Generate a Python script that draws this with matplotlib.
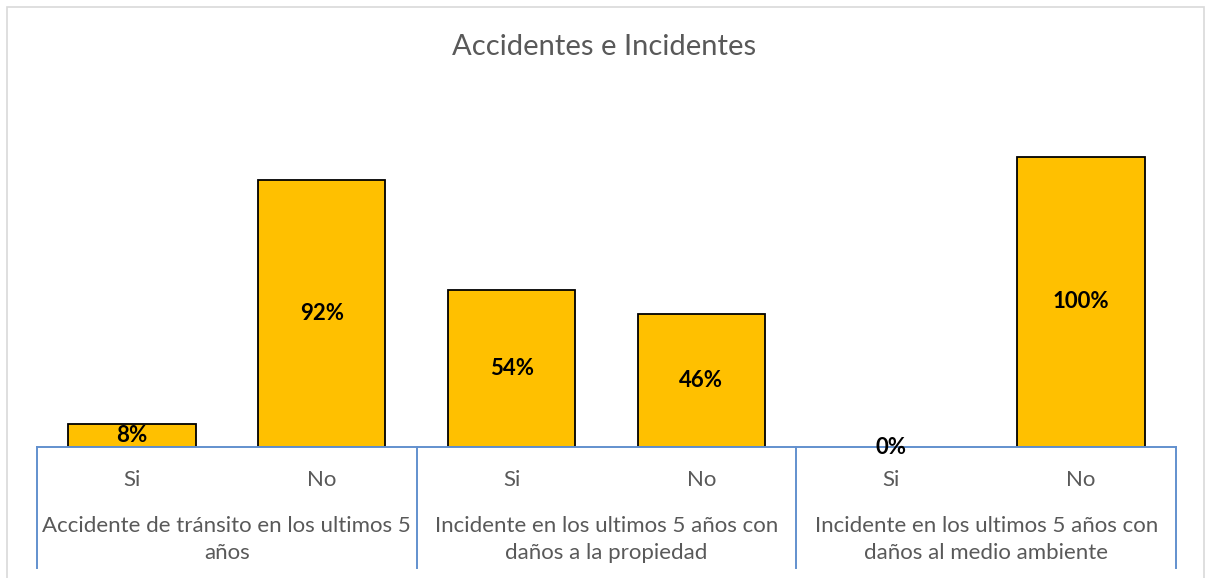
import matplotlib.pyplot as plt
import matplotlib.transforms as mtransforms
from matplotlib.patches import Rectangle

# Datos del gráfico
grupos = [
    "Accidente de tránsito en los ultimos 5\naños",
    "Incidente en los ultimos 5 años con\ndaños a la propiedad",
    "Incidente en los ultimos 5 años con\ndaños al medio ambiente",
]
respuestas = ["Si", "No"]
porcentajes = [8, 92, 54, 46, 0, 100]

color_barra = "#FFC000"
color_eje = "#6290CE"
color_texto = "#595959"

plt.rcParams["font.family"] = ["Lato", "DejaVu Sans"]

fig = plt.figure(figsize=(12.08, 5.78), dpi=100)
ax = fig.add_axes([37 / 1208, 131 / 578, 1139 / 1208, 319 / 578])

# Borde gris del área del gráfico
fig.patches.append(Rectangle((7 / 1208, -0.05), 1197 / 1208, 1.05 - 7 / 578,
                             transform=fig.transFigure, fill=False,
                             edgecolor="#D9D9D9", linewidth=1.2))

x = list(range(len(porcentajes)))
barras = ax.bar(x, [p / 100 for p in porcentajes], width=0.67,
                color=color_barra, edgecolor="black", linewidth=1.3, zorder=2)
# la barra de 0% no se ve
for b, p in zip(barras, porcentajes):
    if p == 0:
        b.set_linewidth(0)

# Etiquetas de datos en el centro de cada barra
for xi, p in zip(x, porcentajes):
    ax.text(xi, p / 200, f"{p}%", ha="center", va="center",
            fontsize=16, fontweight="bold", color="black", zorder=5)

ax.set_xlim(-0.5, len(porcentajes) - 0.5)
ax.set_ylim(0, 1.1)
ax.set_xticks([])
ax.set_yticks([])
for lado in ["top", "right", "left"]:
    ax.spines[lado].set_visible(False)
ax.spines["bottom"].set_color(color_eje)
ax.spines["bottom"].set_linewidth(1.4)
ax.spines["bottom"].set_zorder(4)

# Eje de categorías de dos niveles
trans = mtransforms.blended_transform_factory(ax.transData, ax.transAxes)
for xi in x:
    ax.text(xi, -0.103, respuestas[xi % 2], transform=trans, ha="center",
            va="center", fontsize=16, color=color_texto)
for gi, grupo in enumerate(grupos):
    ax.text(gi * 2 + 0.5, -0.29, grupo, transform=trans, ha="center",
            va="center", fontsize=16, color=color_texto, linespacing=1.45)
for gi in range(len(grupos) + 1):
    ax.plot([gi * 2 - 0.5, gi * 2 - 0.5], [0, -0.379], transform=trans,
            color=color_eje, linewidth=1.4, clip_on=False)

fig.text(0.5, 1 - 47 / 578, "Accidentes e Incidentes", ha="center",
         va="center", fontsize=21, color=color_texto)

fig.savefig("out.png", dpi=100)
